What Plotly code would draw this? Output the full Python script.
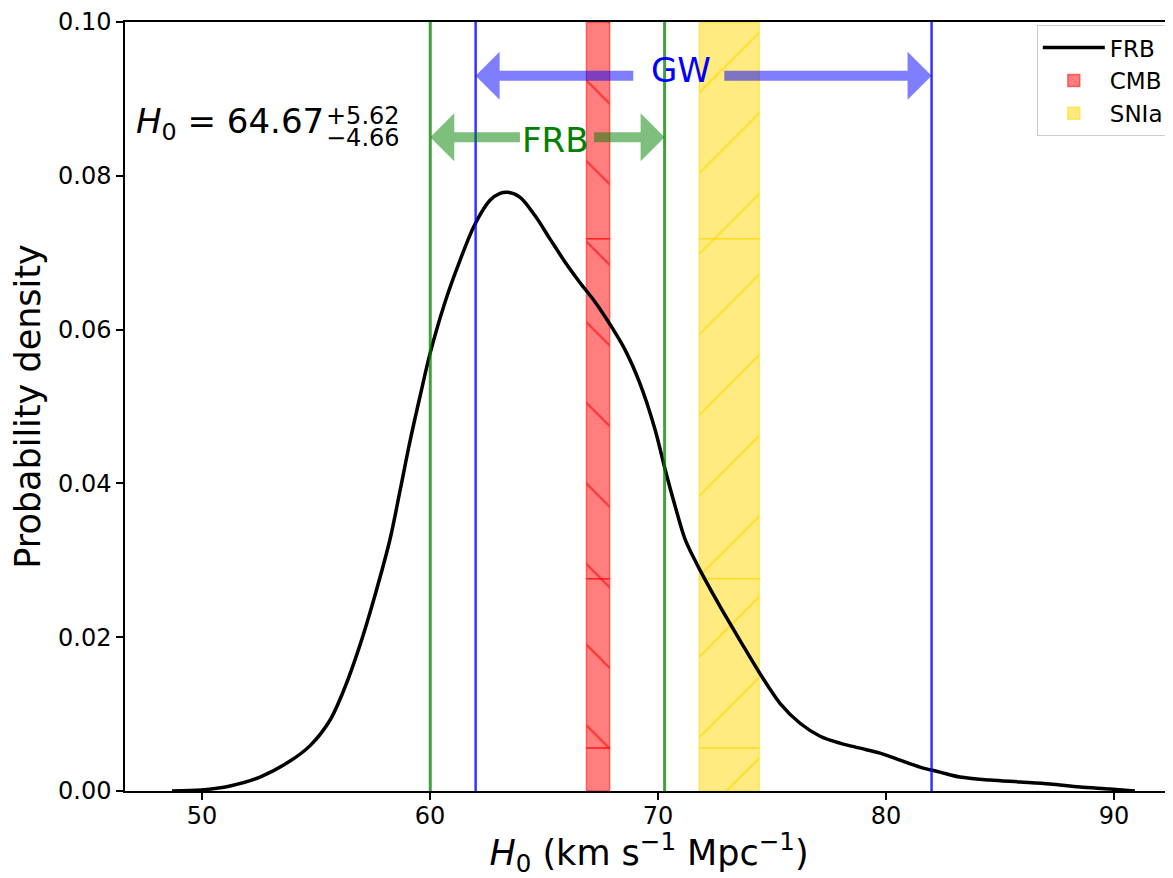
import plotly.graph_objects as go

# ---------------- data ----------------
h0 = [48.68, 49.96, 51.23, 52.54, 53.86, 54.74, 55.61, 56.27, 56.93, 57.59,
      58.25, 58.68, 59.12, 59.56, 60.00, 60.66, 61.32, 61.97, 62.63, 63.07,
      63.42, 63.95, 64.61, 65.26, 65.92, 66.58, 67.24, 67.89, 68.55, 69.21,
      69.87, 70.31, 70.75, 71.18, 71.62, 71.97, 72.72, 73.60, 74.47, 75.35,
      76.23, 77.11, 77.98, 78.86, 79.74, 80.61, 81.49, 82.37, 83.25, 84.56,
      85.88, 87.19, 88.51, 89.82, 90.92]
density = [0.0, 0.00013, 0.00065, 0.00181, 0.00389, 0.00590, 0.00920, 0.01350, 0.01900, 0.02550,
           0.03280, 0.03899, 0.04547, 0.05130, 0.05687, 0.06360, 0.06904, 0.07370, 0.07681, 0.07772,
           0.07785, 0.07720, 0.07480, 0.07180, 0.06880, 0.06610, 0.06360, 0.06070, 0.05740, 0.05298,
           0.04702, 0.04184, 0.03705, 0.03280, 0.03000, 0.02800, 0.02400, 0.01956, 0.01528, 0.01140,
           0.00881, 0.00712, 0.00622, 0.00557, 0.00492, 0.00401, 0.00311, 0.00246, 0.00181, 0.00142,
           0.00117, 0.00091, 0.00052, 0.00026, 0.0]

frb_median = 64.67
frb_err_plus = 5.62
frb_err_minus = 4.66
frb_range = [round(frb_median - frb_err_minus, 2), round(frb_median + frb_err_plus, 2)]
gw_range = [62.0, 82.0]
cmb_band = [66.86, 67.88]
snia_band = [71.81, 74.44]
band_breaks = [0.0, 0.0056, 0.0276, 0.0718, 0.1]

gw_label_pos = [71.0, 0.0937]
gw_arrow_y = 0.0930
frb_label_pos = [65.5, 0.0846]
frb_arrow_y = 0.0850

x_ticks = [50, 60, 70, 80, 90]
y_ticks = [0.0, 0.02, 0.04, 0.06, 0.08, 0.10]
x_range = [46.62, 92.59]
y_range = [0.0, 0.1]

FONT = "DejaVu Sans"

fig = go.Figure()


def band_trace(band, name, fill, edge, hatch, hatch_color, rank):
    cx = (band[0] + band[1]) / 2
    w = band[1] - band[0]
    bases = band_breaks[:-1]
    heights = [band_breaks[i + 1] - band_breaks[i] for i in range(len(bases))]
    return go.Bar(
        x=[cx] * len(bases), y=heights, base=bases, width=[w] * len(bases),
        name=name, legendrank=rank,
        marker=dict(color=fill, line=dict(color=edge, width=1.5),
                    pattern=dict(shape=hatch, fgcolor=hatch_color, fgopacity=0.6,
                                 size=57, solidity=0.04, fillmode="overlay")),
        hoverinfo="skip",
    )


fig.add_trace(band_trace(cmb_band, "CMB", "rgba(255,0,0,0.5)", "rgba(255,0,0,0.5)",
                         "\\", "red", 2))
fig.add_trace(band_trace(snia_band, "SNIa", "rgba(255,215,0,0.5)", "rgba(255,215,0,0.5)",
                         "/", "gold", 3))

fig.add_trace(go.Scatter(x=h0, y=density, mode="lines", name="FRB", legendrank=1,
                         line=dict(color="black", width=3.5, shape="spline", smoothing=0.9)))

# vertical lines
for v in frb_range:
    fig.add_shape(type="line", x0=v, x1=v, xref="x", y0=0, y1=1, yref="paper",
                  line=dict(color="rgba(0,128,0,0.75)", width=3))
for v in gw_range:
    fig.add_shape(type="line", x0=v, x1=v, xref="x", y0=0, y1=1, yref="paper",
                  line=dict(color="rgba(0,0,255,0.8)", width=2.5))

annotations = []


def arrow(head_x, tail_x, y, color, gap):
    # arrow from the label position to the interval edge, leaving a gap around the label
    return dict(x=head_x, y=y, xref="x", yref="y", ax=tail_x, ay=y, axref="x", ayref="y",
                text="", showarrow=True, arrowhead=1, arrowsize=0.8, arrowwidth=10,
                arrowcolor=color, startstandoff=gap, standoff=0)


annotations.append(arrow(gw_range[0], gw_label_pos[0], gw_arrow_y, "rgba(0,0,255,0.5)", 46))
annotations.append(arrow(gw_range[1], gw_label_pos[0], gw_arrow_y, "rgba(0,0,255,0.5)", 42))
annotations.append(arrow(frb_range[0], frb_label_pos[0], frb_arrow_y, "rgba(0,128,0,0.5)", 34))
annotations.append(arrow(frb_range[1], frb_label_pos[0], frb_arrow_y, "rgba(0,128,0,0.5)", 37))

annotations.append(dict(x=gw_label_pos[0], y=gw_label_pos[1], xref="x", yref="y", text="GW",
                        showarrow=False, font=dict(family=FONT, size=34, color="blue")))
annotations.append(dict(x=frb_label_pos[0], y=frb_label_pos[1], xref="x", yref="y", text="FRB",
                        showarrow=False, font=dict(family=FONT, size=34, color="green")))

# H0 result text
annotations.append(dict(x=47.0, y=0.0868, xref="x", yref="y", xanchor="left", yanchor="middle",
                        text="<i>H</i><sub>0</sub> = %.2f" % frb_median, showarrow=False,
                        font=dict(family=FONT, size=34, color="black")))
annotations.append(dict(x=55.33, y=0.0878, xref="x", yref="y", xanchor="left", yanchor="middle",
                        text="+%.2f" % frb_err_plus, showarrow=False,
                        font=dict(family=FONT, size=24, color="black")))
annotations.append(dict(x=55.33, y=0.0849, xref="x", yref="y", xanchor="left", yanchor="middle",
                        text="\u2212%.2f" % frb_err_minus, showarrow=False,
                        font=dict(family=FONT, size=24, color="black")))

# page body adds an 8px offset: the figure is sized so the plot area matches the target
fig.update_layout(
    width=1165, height=870, autosize=False,
    margin=dict(l=117, r=0, t=11, b=87, pad=0),
    paper_bgcolor="white", plot_bgcolor="white",
    barmode="overlay",
    font=dict(family=FONT, color="black"),
    annotations=annotations,
    legend=dict(x=0.996, y=0.996, xanchor="right", yanchor="top",
                bgcolor="rgba(255,255,255,0.8)", bordercolor="#cccccc", borderwidth=1,
                font=dict(family=FONT, size=23, color="black"), itemwidth=62),
    showlegend=True,
)

fig.update_xaxes(range=x_range, tickvals=x_ticks, ticks="outside", ticklen=7, tickwidth=1.5,
                 tickcolor="black", showline=True, linecolor="black", linewidth=1.5, mirror=True,
                 showgrid=False, zeroline=False, tickfont=dict(family=FONT, size=24),
                 ticklabelstandoff=-5, ticklabeloverflow="allow",
                 title=dict(text="<i>H</i><sub>0</sub> (km s<sup>\u22121</sup> Mpc<sup>\u22121</sup>)",
                            font=dict(family=FONT, size=35), standoff=15))
fig.update_yaxes(range=y_range, tickvals=y_ticks, tickformat=".2f", ticks="outside", ticklen=7,
                 tickwidth=1.5, tickcolor="black", showline=True, linecolor="black", linewidth=1.5,
                 mirror=False, showgrid=False, zeroline=False, tickfont=dict(family=FONT, size=24),
                 ticklabeloverflow="allow",
                 title=dict(text="Probability density", font=dict(family=FONT, size=35), standoff=12))

fig.write_html("out.html")
